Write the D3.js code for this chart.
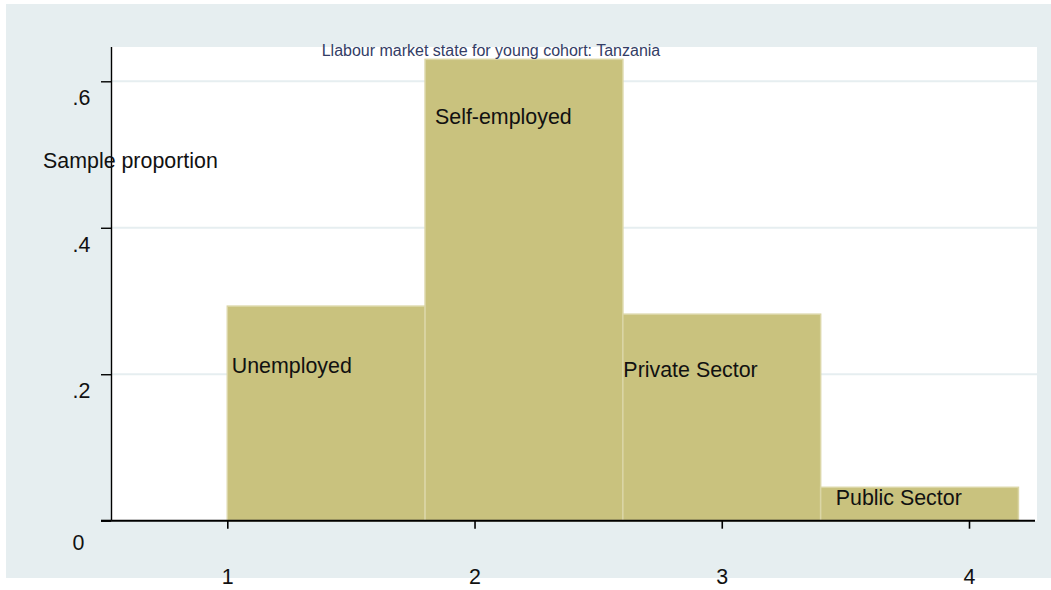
<!DOCTYPE html>
<html>
<head>
<meta charset="utf-8">
<script src="https://cdn.jsdelivr.net/npm/d3@7"></script>
<style>
  body { margin: 0; background: #fff; }
  svg { display: block; font-family: "Liberation Sans", Arial, sans-serif; }
</style>
</head>
<body>
<div id="chart"></div>
<script>
const width = 1051;
const height = 590;

// histogram bins (start, width) and heights
const binStart = [1, 1.8, 2.6, 3.4];
const binWidth = 0.8;
const density = [0.293, 0.630, 0.282, 0.0456];

// text labels placed in data coordinates
const labels = ["Unemployed", "Self-employed", "Private Sector", "Public Sector"];
const labelX = [1.018, 1.840, 2.602, 3.461];
const labelY = [0.202, 0.542, 0.196, 0.0214];

const yTicks = [0, 0.2, 0.4, 0.6];
const xTicks = [1, 2, 3, 4];

const title = "Llabour market state for young cohort: Tanzania";
const yTitle = "Sample proportion";

const plot = { left: 111.5, right: 1037, top: 47, bottom: 520.7 };

const bgColor = '#e6eef0';
const barFill = '#c9c27e';
const barStroke = '#dbd6a6';
const fs = 21.4;

let svg = d3.select("#chart")
    .append("svg")
    .attr("width", width)
    .attr("height", height);

// graph region
svg.append("rect")
    .attr("x", 6).attr("y", 4)
    .attr("width", width - 6).attr("height", 574)
    .attr("fill", bgColor);

// plot region
svg.append("rect")
    .attr("x", plot.left).attr("y", plot.top)
    .attr("width", plot.right - plot.left).attr("height", plot.bottom - plot.top)
    .attr("fill", "#fff");

let x = d3.scaleLinear()
    .domain([1, 4])
    .range([227.3, 969]);

let y = d3.scaleLinear()
    .domain([0, 0.6])
    .range([plot.bottom, 81.3]);

// gridlines
svg.selectAll(".grid")
    .data(yTicks.filter(d => d > 0))
    .join("line")
    .attr("class", "grid")
    .attr("x1", plot.left).attr("x2", plot.right)
    .attr("y1", d => y(d)).attr("y2", d => y(d))
    .attr("stroke", bgColor)
    .attr("stroke-width", 2);

// bars
svg.selectAll(".bar")
    .data(density)
    .join("rect")
    .attr("class", "bar")
    .attr("x", (d, i) => x(binStart[i]))
    .attr("y", d => y(d))
    .attr("width", (d, i) => x(binStart[i] + binWidth) - x(binStart[i]))
    .attr("height", d => y(0) - y(d))
    .attr("fill", barFill)
    .attr("stroke", barStroke)
    .attr("stroke-width", 1.5);

// bar labels
svg.selectAll(".lab")
    .data(labels)
    .join("text")
    .attr("class", "lab")
    .attr("x", (d, i) => x(labelX[i]))
    .attr("y", (d, i) => y(labelY[i]))
    .attr("font-size", fs)
    .attr("fill", "#111")
    .text(d => d);

// y axis
const fmtY = d => d === 0 ? "0" : d3.format(".1f")(d).replace(/^0/, "");
let yAxis = svg.append("g")
    .attr("transform", `translate(${plot.left},0)`)
    .call(d3.axisLeft(y).tickValues(yTicks).tickSize(10.5).tickFormat(fmtY));
yAxis.select(".domain")
    .attr("d", `M0,${plot.top}V${plot.bottom}`)
    .attr("stroke", "#000").attr("stroke-width", 1.4);
yAxis.selectAll(".tick line").attr("stroke", "#000").attr("stroke-width", 1.4);
yAxis.selectAll(".tick text")
    .attr("x", d => d === 0 ? -33 : -30)
    .attr("dy", (d) => d === 0 ? 28.5 : 23.5)
    .attr("text-anchor", "middle")
    .attr("font-family", "Liberation Sans, Arial, sans-serif")
    .attr("font-size", fs)
    .attr("fill", "#111");

// x axis
let xAxis = svg.append("g")
    .attr("transform", `translate(0,${plot.bottom})`)
    .call(d3.axisBottom(x).tickValues(xTicks).tickSize(8).tickFormat(d3.format("d")));
xAxis.select(".domain")
    .attr("d", `M${plot.left},0H1035`)
    .attr("stroke", "#000").attr("stroke-width", 2);
xAxis.selectAll(".tick line").attr("stroke", "#000").attr("stroke-width", 1.6);
xAxis.selectAll(".tick text")
    .attr("y", 63)
    .attr("dy", 0)
    .attr("font-family", "Liberation Sans, Arial, sans-serif")
    .attr("font-size", fs)
    .attr("fill", "#111");

// y tick at zero extends the axis line to the left
svg.append("line")
    .attr("x1", 101).attr("x2", plot.left)
    .attr("y1", y(0)).attr("y2", y(0))
    .attr("stroke", "#000").attr("stroke-width", 2);

// axis title (horizontal)
svg.append("text")
    .attr("x", 43)
    .attr("y", 168)
    .attr("font-size", fs)
    .attr("fill", "#111")
    .text(yTitle);

// chart title
svg.append("text")
    .attr("x", 321.7)
    .attr("y", 56)
    .attr("font-size", 16)
    .attr("fill", "#333d66")
    .text(title);
</script>
</body>
</html>
